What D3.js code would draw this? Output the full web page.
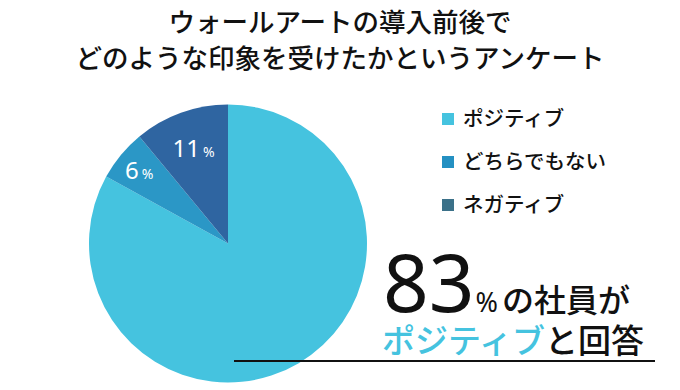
<!DOCTYPE html>
<html><head><meta charset="utf-8">
<script src="https://cdn.jsdelivr.net/npm/d3@7"></script>
<style>body{margin:0;background:#fff}svg{display:block}</style>
</head><body><svg id="c" width="680" height="390"></svg>
<script>
const categories = ["ポジティブ", "どちらでもない", "ネガティブ"];
const values = [83, 6, 11];
const sliceColors = ["#45C3DF", "#2B97C6", "#2F65A1"];
const legendColors = ["#45C3DF", "#2490C2", "#3B7189"];
const titleLines = ["ウォールアートの導入前後で", "どのような印象を受けたかというアンケート"];

const svg = d3.select("#c");
const font = "'Noto Sans CJK JP','Noto Sans',sans-serif";
const latin = "'Noto Sans','Noto Sans CJK JP',sans-serif";

svg.selectAll("text.title").data(titleLines).join("text")
  .attr("x", 340).attr("y", (d,i)=>32+i*36)
  .attr("text-anchor","middle").attr("font-family",font).attr("font-weight",500)
  .attr("font-size",26.5).attr("fill","#111").text(d=>d);

const cx=228, cy=243.5, r=139;
const pie = d3.pie().sort(null).value(d=>d);
const arcs = pie(values);
const arc = d3.arc().innerRadius(0).outerRadius(r);
const g = svg.append("g").attr("transform",`translate(${cx},${cy})`);
g.selectAll("path").data(arcs).join("path")
  .attr("d",arc).attr("fill",(d,i)=>sliceColors[i]);

// labels on small slices
const lblR = {1: 0.83, 2: 0.73};
const lbl = g.selectAll("text.lbl").data(arcs.slice(1)).join("text")
  .attr("font-family",latin).attr("fill","#fff").attr("text-anchor","middle")
  .attr("transform",d=>{
    const c=d3.arc().innerRadius(r*lblR[d.index]).outerRadius(r*lblR[d.index]).centroid(d);
    return `translate(${c[0]},${c[1]+9})`;});
lbl.append("tspan").attr("font-size",24).text(d=>d.value);
lbl.append("tspan").attr("font-size",14).attr("dx",3).text("%");

// legend
const lg = svg.append("g").attr("transform","translate(442,113)");
const items = lg.selectAll("g").data(categories).join("g")
  .attr("transform",(d,i)=>`translate(0,${i*43})`);
items.append("rect").attr("width",12).attr("height",12).attr("fill",(d,i)=>legendColors[i]);
items.append("text").attr("x",21).attr("y",13).attr("font-family",font).attr("font-weight",500)
  .attr("font-size",20.5).attr("fill","#111").text(d=>d);

// callout
const t1 = svg.append("text").attr("x",383).attr("y",312).attr("fill","#111");
t1.append("tspan").attr("font-family",latin).attr("font-size",80).text(values[0]);
t1.append("tspan").attr("font-family",latin).attr("font-size",27).attr("dx",1).text("%");
t1.append("tspan").attr("font-family",font).attr("font-weight",500).attr("font-size",32).attr("dx",4).text("の社員が");
const t2 = svg.append("text").attr("x",382).attr("y",353).attr("font-family",font).attr("font-weight",500).attr("font-size",33);
t2.append("tspan").attr("fill",sliceColors[0]).text(categories[0]);
t2.append("tspan").attr("fill","#111").text("と回答");
svg.append("line").attr("x1",234).attr("x2",655).attr("y1",361).attr("y2",361)
  .attr("stroke","#111").attr("stroke-width",2);
</script></body></html>
